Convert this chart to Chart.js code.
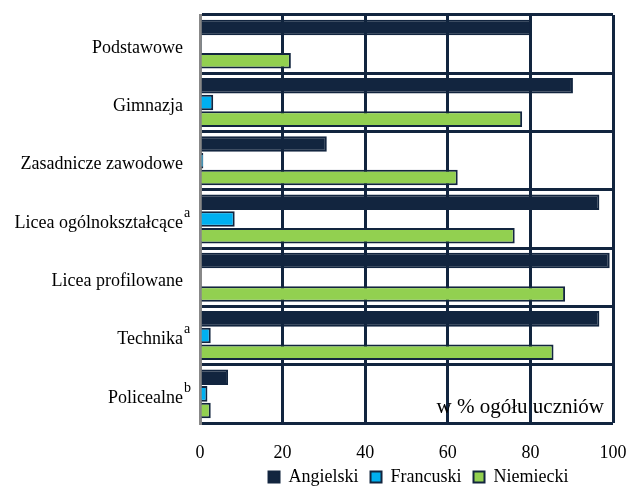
<!DOCTYPE html>
<html>
<head>
<meta charset="utf-8">
<script src="https://cdn.jsdelivr.net/npm/chart.js@4"></script>
<style>
  html, body { margin: 0; padding: 0; background: #fff; }
  #wrap { width: 629px; height: 486px; }
</style>
</head>
<body>
<div id="wrap"><canvas id="chart" width="629" height="486"></canvas></div>
<script>
const categories = ['Podstawowe', 'Gimnazja', 'Zasadnicze zawodowe', 'Licea ogólnokształcące', 'Licea profilowane', 'Technika', 'Policealne']
const superscripts = ['', '', '', 'a', '', 'a', 'b']
const angielski = [80.2, 90.3, 30.7, 96.7, 99.2, 96.7, 6.8]
const francuski = [0.3, 3.2, 0.8, 8.4, 0, 2.6, 1.8]
const niemiecki = [22, 78, 62.4, 76.2, 88.4, 85.6, 2.6]
const xTicks = [0, 20, 40, 60, 80, 100]
const unitNote = 'w % ogółu uczniów'

const navy = '#12253f'
const serif = "'Liberation Serif', 'DejaVu Serif', serif"

// labels of the category axis, with superscripts, drawn by hand
const yLabels = {
  id: 'yLabels',
  afterDraw(chart) {
    const c = chart.ctx, y = chart.scales.y
    c.save()
    c.fillStyle = '#000'
    c.textBaseline = 'middle'
    categories.forEach((cat, i) => {
      const py = y.getPixelForValue(i) + 4
      c.font = '18px ' + serif
      c.textAlign = 'right'
      c.fillText(cat, 183, py)
      if (superscripts[i]) {
        c.font = '14px ' + serif
        c.textAlign = 'left'
        c.fillText(superscripts[i], 184, py - 10)
      }
    })
    c.restore()
  }
}

// note in the lower right corner, under the grid lines
const note = {
  id: 'note',
  beforeDatasetsDraw(chart) {
    const c = chart.ctx, a = chart.chartArea
    c.save()
    c.font = '21px ' + serif
    c.fillStyle = '#000'
    c.textAlign = 'right'
    c.textBaseline = 'middle'
    c.fillText(unitNote, a.right - 9, a.bottom - 16)
    c.restore()
  }
}

// legend sits under the plot area, a bit higher than its box
const legendShift = {
  id: 'legendShift',
  afterLayout(chart) {
    const l = chart.legend
    l.top -= 12; l.bottom -= 12
    l.left += 112; l.right += 112
  }
}

const ds = (label, data, color) => ({
  label: label,
  data: data,
  backgroundColor: color,
  borderColor: navy,
  borderWidth: 2,
  borderSkipped: 'start',
  categoryPercentage: 0.86,
  barPercentage: 0.93
})

new Chart(document.getElementById('chart').getContext('2d'), {
  type: 'bar',
  data: {
    labels: categories,
    datasets: [
      ds('Angielski', angielski, navy),
      ds('Francuski', francuski, '#00b0f0'),
      ds('Niemiecki', niemiecki, '#92d050')
    ]
  },
  options: {
    indexAxis: 'y',
    responsive: false,
    animation: false,
    layout: { padding: { top: 15, right: 16, left: 0, bottom: -22 } },
    scales: {
      x: {
        min: 0,
        max: 100,
        afterBuildTicks: (s) => { s.ticks = xTicks.map(v => ({ value: v })) },
        afterFit: (s) => { s.height = 45; s.paddingLeft = 0; s.paddingRight = 0 },
        grid: { color: navy, lineWidth: 3, drawTicks: false },
        border: { display: false },
        ticks: { color: '#000', font: { family: serif, size: 18 }, padding: 19 }
      },
      y: {
        afterFit: (s) => { s.width = 200 },
        grid: { color: navy, lineWidth: 3, drawTicks: false },
        border: { color: '#888888', width: 3 },
        ticks: { display: false }
      }
    },
    plugins: {
      legend: {
        position: 'bottom',
        labels: {
          color: '#000',
          font: { family: serif, size: 18 },
          boxWidth: 11,
          boxHeight: 11,
          padding: 12
        }
      },
      tooltip: { enabled: false }
    }
  },
  plugins: [note, yLabels, legendShift]
})
</script>
</body>
</html>
